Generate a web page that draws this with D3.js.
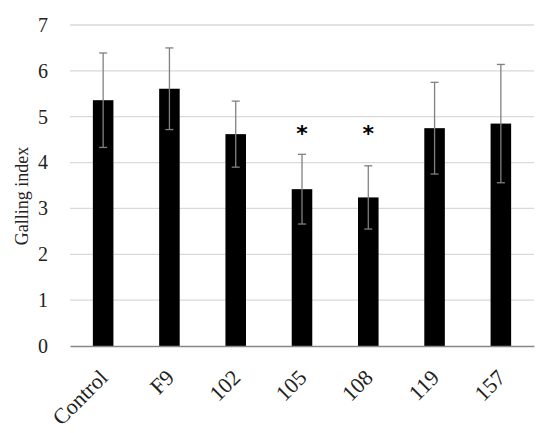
<!DOCTYPE html>
<html lang="en">
<head>
    <meta charset="UTF-8">
    <title>Galling index</title>
    <style type="text/css">
        body { margin: 0; background: #fff; }
        .axis text {
            font-family: "Palatino Linotype", "Book Antiqua", Palatino, "Liberation Serif", serif;
            fill: #222;
        }
        .y.axis text { font-size: 20px; }
        .x.axis text { font-size: 22px; }
    </style>
</head>
<body>
<script src="https://cdn.jsdelivr.net/npm/d3@7"></script>
<script>
    var width = 550,
        height = 433
    var padding = { top: 25, right: 16, bottom: 87, left: 70 }

    // data
    var categories = ['Control', 'F9', '102', '105', '108', '119', '157']
    var means = [5.36, 5.61, 4.62, 3.42, 3.24, 4.75, 4.85]
    var errors = [1.03, 0.89, 0.72, 0.76, 0.69, 1.0, 1.29]
    var significant = [false, false, false, true, true, false, false]
    var yTicks = [0, 1, 2, 3, 4, 5, 6, 7]

    var svg = d3.select('body')
        .append('svg')
        .attr('width', width)
        .attr('height', height)

    var innerW = width - padding.left - padding.right,
        innerH = height - padding.top - padding.bottom

    var g = svg.append('g')
        .attr('transform', 'translate(' + padding.left + ',' + padding.top + ')')

    var xScale = d3.scaleBand()
        .domain(categories)
        .range([0, innerW])
        .paddingInner(0.69)
        .paddingOuter(0.345)

    var yScale = d3.scaleLinear()
        .domain([0, 7])
        .range([innerH, 0])

    // grid lines
    g.selectAll('.grid')
        .data(yTicks.filter(function(d){ return d > 0 }))
        .enter()
        .append('line')
        .attr('class', 'grid')
        .attr('x1', 0)
        .attr('x2', innerW)
        .attr('y1', function(d){ return yScale(d) })
        .attr('y2', function(d){ return yScale(d) })
        .attr('stroke', '#d9d9d9')
        .attr('stroke-width', 1.3)

    // bars
    g.selectAll('.bar')
        .data(means)
        .enter()
        .append('rect')
        .attr('class', 'bar')
        .attr('x', function(d, i){ return xScale(categories[i]) })
        .attr('y', function(d){ return yScale(d) })
        .attr('width', xScale.bandwidth())
        .attr('height', function(d){ return innerH - yScale(d) })
        .attr('fill', '#000')

    // error bars
    var cap = 4
    var eb = g.selectAll('.err')
        .data(means)
        .enter()
        .append('g')
        .attr('class', 'err')
        .attr('stroke', '#808080')
        .attr('stroke-width', 1.3)
    eb.append('line')
        .attr('x1', function(d, i){ return xScale(categories[i]) + xScale.bandwidth() / 2 })
        .attr('x2', function(d, i){ return xScale(categories[i]) + xScale.bandwidth() / 2 })
        .attr('y1', function(d, i){ return yScale(d + errors[i]) })
        .attr('y2', function(d, i){ return yScale(d - errors[i]) })
    eb.append('line')
        .attr('x1', function(d, i){ return xScale(categories[i]) + xScale.bandwidth() / 2 - cap })
        .attr('x2', function(d, i){ return xScale(categories[i]) + xScale.bandwidth() / 2 + cap })
        .attr('y1', function(d, i){ return yScale(d + errors[i]) })
        .attr('y2', function(d, i){ return yScale(d + errors[i]) })
    eb.append('line')
        .attr('x1', function(d, i){ return xScale(categories[i]) + xScale.bandwidth() / 2 - cap })
        .attr('x2', function(d, i){ return xScale(categories[i]) + xScale.bandwidth() / 2 + cap })
        .attr('y1', function(d, i){ return yScale(d - errors[i]) })
        .attr('y2', function(d, i){ return yScale(d - errors[i]) })

    // asterisks
    g.selectAll('.star')
        .data(categories.filter(function(c, i){ return significant[i] }))
        .enter()
        .append('text')
        .attr('class', 'star')
        .attr('x', function(d){ return xScale(d) + xScale.bandwidth() / 2 })
        .attr('y', yScale(4.77))
        .attr('dy', '0.62em')
        .attr('text-anchor', 'middle')
        .attr('font-family', '"DejaVu Sans", sans-serif')
        .attr('font-weight', 'bold')
        .attr('font-size', 22)
        .text('*')

    // y axis
    var yAxis = d3.axisLeft(yScale)
        .tickValues(yTicks)
        .tickFormat(d3.format('d'))
        .tickSize(0)
        .tickPadding(22)
    g.append('g')
        .attr('class', 'y axis')
        .call(yAxis)
        .call(function(s){ s.select('.domain').remove() })

    // x axis
    var xAxis = d3.axisBottom(xScale).tickSize(0)
    var xg = g.append('g')
        .attr('class', 'x axis')
        .attr('transform', 'translate(0,' + innerH + ')')
        .call(xAxis)
    xg.select('.domain')
        .attr('stroke', '#878787')
        .attr('stroke-width', 1.6)
    xg.selectAll('text')
        .attr('text-anchor', 'end')
        .attr('x', 0)
        .attr('y', 0)
        .attr('dy', 0)
        .attr('transform', 'translate(6,33) rotate(-45)')

    // y label
    svg.append('text')
        .attr('transform', 'translate(28,' + 196 + ') rotate(-90)')
        .attr('text-anchor', 'middle')
        .attr('font-family', '"Palatino Linotype", "Book Antiqua", Palatino, "Liberation Serif", serif')
        .attr('font-size', 18)
        .attr('fill', '#222')
        .text('Galling index')
</script>
</body>
</html>
